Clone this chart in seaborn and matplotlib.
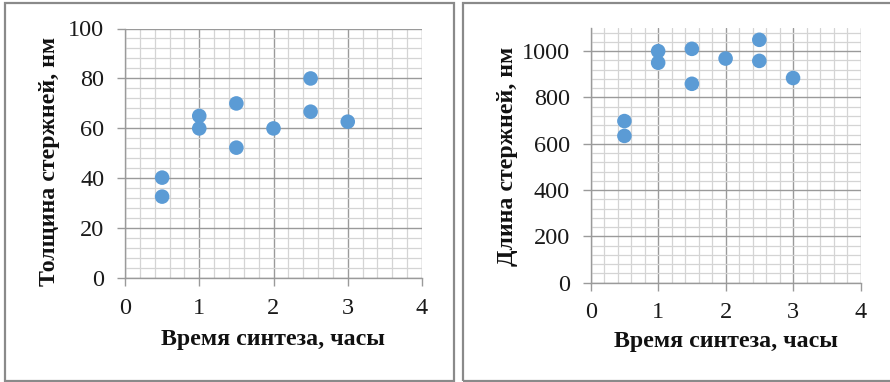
import matplotlib
matplotlib.use("Agg")
import matplotlib.pyplot as plt
import seaborn as sns
import pandas as pd
import numpy as np
from matplotlib.patches import Rectangle
from matplotlib.ticker import MultipleLocator

# ---- data ----
time_hours = [0.5, 0.5, 1.0, 1.0, 1.5, 1.5, 2.0, 2.5, 2.5, 3.0]
thickness_nm = [40.3, 32.7, 65, 60, 70, 52.3, 60, 80, 66.7, 62.7]
length_nm = [698, 634, 1000, 950, 1010, 859, 968, 1049, 958, 884]

x_label = "Время синтеза, часы"
y_label_left = "Толщина стержней, нм"
y_label_right = "Длина стержней, нм"

sns.set_theme(style="white")
plt.rcParams['font.family'] = ['Liberation Serif', 'DejaVu Serif']

W, H = 890, 382
fig = plt.figure(figsize=(W / 100, H / 100), dpi=100)

df = pd.DataFrame({"t": time_hours, "d": thickness_nm, "L": length_nm})

def px_axes(x0, x1, y0, y1):
    return fig.add_axes([x0 / W, 1 - y1 / H, (x1 - x0) / W, (y1 - y0) / H])

ax1 = px_axes(125, 422, 28.5, 278.3)
ax2 = px_axes(590.7, 860.5, 28, 282.7)

blue = "#5B9BD5"
sns.scatterplot(data=df, x="t", y="d", ax=ax1, color=blue, s=110, edgecolor="none", zorder=5)
sns.scatterplot(data=df, x="t", y="L", ax=ax2, color=blue, s=110, edgecolor="none", zorder=5)

def style(ax, ymax, ymaj, ymin):
    ax.set_xlim(0, 4)
    ax.set_ylim(0, ymax)
    ax.xaxis.set_major_locator(MultipleLocator(1))
    ax.xaxis.set_minor_locator(MultipleLocator(0.2))
    ax.yaxis.set_major_locator(MultipleLocator(ymaj))
    ax.yaxis.set_minor_locator(MultipleLocator(ymin))
    ax.grid(which="major", color="#9a9a9a", lw=1.0)
    ax.grid(which="minor", color="#d4d4d4", lw=0.9)
    ax.set_axisbelow(True)
    for s in ["top", "right"]:
        ax.spines[s].set_visible(False)
    for s in ["left", "bottom"]:
        ax.spines[s].set_color("#9a9a9a")
        ax.spines[s].set_linewidth(1.0)
    ax.tick_params(which="major", direction="out", length=6, width=1.0, color="#9a9a9a",
                   labelsize=17.5, labelcolor="#1a1a1a", left=True, bottom=True)
    ax.tick_params(axis="x", pad=8)
    ax.tick_params(axis="y", pad=9)
    ax.tick_params(which="minor", length=0)
    ax.set_xlabel("")
    ax.set_ylabel("")

style(ax1, 100, 20, 4)
style(ax2, 1100, 200, 40)
ax1.set_xticks([0, 1, 2, 3, 4])
ax2.set_yticks([0, 200, 400, 600, 800, 1000])

lab = dict(fontsize=17.2, fontweight="bold", color="#111111", ha="center", va="center")
fig.text(273 / W, 1 - 340 / H, x_label, **lab)
fig.text(726 / W, 1 - 342 / H, x_label, **lab)
fig.text(50 / W, 1 - 161 / H, y_label_left, rotation=90, **lab)
fig.text(508 / W, 1 - 156 / H, y_label_right, rotation=90, **lab)

# panel frames
fig.patches.append(Rectangle((5 / W, 1 - 381 / H), (449 / W), (378 / H),
                             transform=fig.transFigure, fill=False, edgecolor="#8a8a8a", lw=1.6))
fig.patches.append(Rectangle((463 / W, 1 - 381 / H), (440 / W), (378 / H),
                             transform=fig.transFigure, fill=False, edgecolor="#8a8a8a", lw=1.6))

fig.savefig("out.png", dpi=100)
